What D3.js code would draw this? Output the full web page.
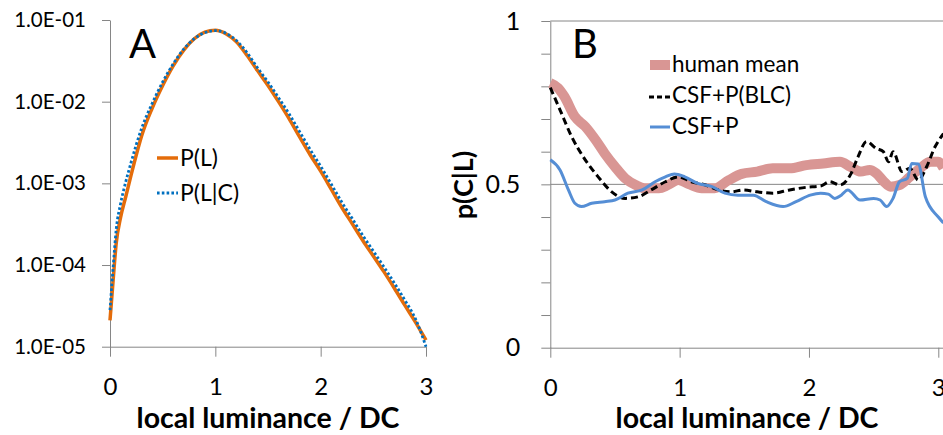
<!DOCTYPE html>
<html>
<head>
<meta charset="utf-8">
<script src="https://cdn.jsdelivr.net/npm/d3@7"></script>
<style>
  body { margin: 0; background: #fff; }
  text { font-family: Lato, "Open Sans", sans-serif; fill: #000; }
</style>
</head>
<body>
<svg id="chart" width="943" height="435"></svg>
<script>
// ---- panel A data: local luminance vs probability (log scale)
const lumA = [0, 0.03, 0.06, 0.1, 0.15, 0.2, 0.25, 0.3, 0.4, 0.5, 0.6, 0.7, 0.8, 0.9, 1.0,
  1.1, 1.2, 1.3, 1.4, 1.5, 1.6, 1.7, 1.8, 1.9, 2.0, 2.1, 2.2, 2.3, 2.4, 2.5, 2.6, 2.7, 2.8, 2.9, 3.0];
const pL = [2.1e-5, 6.6e-5, 1.9e-4, 3.8e-4, 6.9e-4, 1.26e-3, 2.24e-3, 3.8e-3, 8.3e-3, 1.58e-2,
  2.75e-2, 4.27e-2, 5.9e-2, 7.1e-2, 7.5e-2, 6.8e-2, 5.4e-2, 3.7e-2, 2.4e-2, 1.58e-2, 1.0e-2,
  6.2e-3, 3.7e-3, 2.24e-3, 1.41e-3, 8.5e-4, 5.1e-4, 3.2e-4, 2.0e-4, 1.29e-4, 8.3e-5, 5.2e-5,
  3.2e-5, 2.0e-5, 1.2e-5];
const pLC = [2.8e-5, 9.5e-5, 2.8e-4, 5.6e-4, 1.05e-3, 1.8e-3, 3.0e-3, 4.7e-3, 9.5e-3, 1.74e-2,
  2.9e-2, 4.4e-2, 5.9e-2, 7.0e-2, 7.4e-2, 6.9e-2, 5.6e-2, 4.0e-2, 2.6e-2, 1.74e-2, 1.12e-2,
  7.1e-3, 4.3e-3, 2.6e-3, 1.62e-3, 9.8e-4, 5.9e-4, 3.7e-4, 2.3e-4, 1.48e-4, 9.5e-5, 6.0e-5,
  3.7e-5, 2.2e-5, 1.0e-5];
const legendA = ["P(L)", "P(L|C)"];
const ticksYA = [1e-1, 1e-2, 1e-3, 1e-4, 1e-5];

// ---- panel B data: [luminance, p(C|L)]
const humanMean = [[0, 0.81], [0.06, 0.795], [0.11, 0.768], [0.19, 0.707], [0.27, 0.677],
  [0.35, 0.636], [0.42, 0.595], [0.5, 0.554], [0.58, 0.518], [0.66, 0.498], [0.73, 0.488],
  [0.84, 0.488], [0.91, 0.498], [0.99, 0.513], [1.07, 0.501], [1.17, 0.488], [1.27, 0.488],
  [1.38, 0.513], [1.48, 0.532], [1.6, 0.539], [1.72, 0.549], [1.85, 0.549], [1.98, 0.559],
  [2.11, 0.564], [2.24, 0.569], [2.32, 0.554], [2.4, 0.539], [2.47, 0.544], [2.52, 0.534],
  [2.58, 0.508], [2.63, 0.493], [2.7, 0.498], [2.78, 0.523], [2.86, 0.549], [2.94, 0.569],
  [3.0, 0.569], [3.04, 0.55]];
const csfBLC = [[0, 0.796], [0.075, 0.728], [0.165, 0.646], [0.27, 0.575], [0.37, 0.523],
  [0.475, 0.477], [0.58, 0.457], [0.68, 0.462], [0.78, 0.483], [0.89, 0.508], [0.99, 0.523],
  [1.09, 0.508], [1.2, 0.498], [1.3, 0.483], [1.4, 0.477], [1.49, 0.483], [1.6, 0.477],
  [1.72, 0.473], [1.85, 0.483], [1.98, 0.491], [2.09, 0.495], [2.16, 0.508], [2.24, 0.498],
  [2.32, 0.529], [2.38, 0.585], [2.445, 0.631], [2.52, 0.61], [2.575, 0.6], [2.615, 0.569],
  [2.65, 0.6], [2.72, 0.539], [2.78, 0.549], [2.845, 0.513], [2.91, 0.554], [2.975, 0.615],
  [3.0, 0.632], [3.04, 0.655]];
const csfP = [[0, 0.575], [0.075, 0.544], [0.14, 0.483], [0.19, 0.442], [0.24, 0.432],
  [0.32, 0.442], [0.42, 0.447], [0.5, 0.452], [0.6, 0.473], [0.71, 0.483], [0.81, 0.508],
  [0.89, 0.523], [0.96, 0.532], [1.04, 0.523], [1.14, 0.503], [1.25, 0.493], [1.35, 0.473],
  [1.45, 0.467], [1.57, 0.467], [1.67, 0.447], [1.8, 0.432], [1.9, 0.447], [2.01, 0.467],
  [2.09, 0.473], [2.15, 0.47], [2.2, 0.457], [2.25, 0.467], [2.3, 0.483], [2.395, 0.452],
  [2.5, 0.457], [2.55, 0.452], [2.6, 0.432], [2.65, 0.457], [2.7, 0.508], [2.76, 0.518],
  [2.795, 0.564], [2.845, 0.562], [2.9, 0.462], [3.0, 0.4], [3.04, 0.382]];
const legendB = ["human mean", "CSF+P(BLC)", "CSF+P"];
const ticksX = [0, 1, 2, 3];
const ticksYB = d3.range(0, 1.01, 0.1);
const labelsYB = [0, 0.5, 1];

const axisColor = "#868686";
const svg = d3.select("#chart");
svg.append("rect").attr("width", 943).attr("height", 435).attr("fill", "#fff");

function styleAxis(g) {
    g.select(".domain").attr("stroke", axisColor);
    g.selectAll(".tick line").attr("stroke", axisColor);
    g.selectAll(".tick text").attr("fill", "#000");
}

// ================= panel A
const xA = d3.scaleLinear().domain([0, 3]).range([110, 426]);
const yA = d3.scaleLog().domain([1e-5, 1e-1]).range([346.7, 20]);

const fmtE = d => {
    const e = Math.round(Math.log10(d));
    return "1.0E" + (e < 0 ? "-" : "+") + String(Math.abs(e)).padStart(2, "0");
};

svg.append("g")
    .attr("transform", "translate(110,0)")
    .call(d3.axisLeft(yA).tickValues(ticksYA).tickFormat(fmtE).tickSize(8).tickSizeOuter(0).tickPadding(16))
    .call(styleAxis)
    .call(g => g.selectAll(".tick text").attr("font-size", 20.5).attr("font-family", null));

svg.append("g")
    .attr("transform", "translate(0,346.7)")
    .call(d3.axisBottom(xA).tickValues(ticksX).tickFormat(d3.format("d")).tickSize(10).tickSizeOuter(0).tickPadding(21))
    .call(styleAxis)
    .call(g => g.selectAll(".tick text").attr("font-size", 24).attr("font-family", null));

const lineA = vals => d3.line()
    .x((d, i) => xA(lumA[i]))
    .y(d => yA(d))
    .curve(d3.curveMonotoneX)(vals);

svg.append("path").attr("d", lineA(pL))
    .attr("fill", "none").attr("stroke", "#E46C0A").attr("stroke-width", 3.5);
svg.append("path").attr("d", lineA(pLC))
    .attr("fill", "none").attr("stroke", "#0070C0").attr("stroke-width", 2.8)
    .attr("stroke-dasharray", "2.6,2.2");

svg.append("text").attr("x", 129).attr("y", 58).attr("font-size", 40).text("A");

// legend A
const legA = svg.append("g");
legA.append("line").attr("x1", 157).attr("x2", 178).attr("y1", 158).attr("y2", 158)
    .attr("stroke", "#E46C0A").attr("stroke-width", 3.5);
legA.append("line").attr("x1", 157).attr("x2", 178).attr("y1", 193).attr("y2", 193)
    .attr("stroke", "#0070C0").attr("stroke-width", 2.8).attr("stroke-dasharray", "2.6,2.2");
legA.selectAll("text").data(legendA).join("text")
    .attr("x", 180).attr("y", (d, i) => 166 + i * 35)
    .attr("font-size", 23).text(d => d);

svg.append("text").attr("x", 268).attr("y", 428).attr("text-anchor", "middle")
    .attr("font-size", 28.5).attr("font-weight", "bold").text("local luminance / DC");

// ================= panel B
const xB = d3.scaleLinear().domain([0, 3]).range([550.3, 938.3]);
const yB = d3.scaleLinear().domain([0, 1]).range([347.7, 21]);

svg.append("g").selectAll("line").data([0.5, 1]).join("line")
    .attr("x1", 550.3).attr("x2", 943)
    .attr("y1", d => yB(d)).attr("y2", d => yB(d))
    .attr("stroke", axisColor).attr("stroke-width", 1);

svg.append("g")
    .attr("transform", "translate(550.3,0)")
    .call(d3.axisLeft(yB).tickValues(ticksYB).tickSize(9).tickSizeOuter(0).tickPadding(21)
        .tickFormat(d => labelsYB.some(v => Math.abs(v - d) < 1e-6) ? d3.format("")(Math.round(d * 10) / 10) : ""))
    .call(styleAxis)
    .call(g => g.selectAll(".tick text").attr("font-size", 25).attr("font-family", null));

svg.append("g")
    .attr("transform", "translate(0,347.7)")
    .call(d3.axisBottom(xB).tickValues(ticksX).tickFormat(d3.format("d")).tickSize(10).tickSizeOuter(0).tickPadding(21))
    .call(styleAxis)
    .call(g => g.select(".domain").attr("d", "M550.3,0.5H943"))
    .call(g => g.selectAll(".tick text").attr("font-size", 24).attr("font-family", null));

const lineB = d3.line().x(d => xB(d[0])).y(d => yB(d[1])).curve(d3.curveMonotoneX);

svg.append("path").attr("d", lineB(humanMean))
    .attr("fill", "none").attr("stroke", "#D99694").attr("stroke-width", 10)
    .attr("stroke-linejoin", "round");
svg.append("path").attr("d", lineB(csfBLC))
    .attr("fill", "none").attr("stroke", "#000").attr("stroke-width", 3)
    .attr("stroke-dasharray", "7,4");
svg.append("path").attr("d", lineB(csfP))
    .attr("fill", "none").attr("stroke", "#558ED5").attr("stroke-width", 3)
    .attr("stroke-linejoin", "round");

svg.append("text").attr("x", 572).attr("y", 58).attr("font-size", 40).text("B");

// legend B
const legB = svg.append("g");
legB.append("line").attr("x1", 650).attr("x2", 670).attr("y1", 65).attr("y2", 65)
    .attr("stroke", "#D99694").attr("stroke-width", 10);
legB.append("line").attr("x1", 649).attr("x2", 671).attr("y1", 97).attr("y2", 97)
    .attr("stroke", "#000").attr("stroke-width", 3).attr("stroke-dasharray", "5,3");
legB.append("line").attr("x1", 650).attr("x2", 670).attr("y1", 127).attr("y2", 127)
    .attr("stroke", "#558ED5").attr("stroke-width", 3);
legB.selectAll("text").data(legendB).join("text")
    .attr("x", 672).attr("y", (d, i) => 72 + i * 30.8)
    .attr("font-size", 22.5).text(d => d);

svg.append("text").attr("transform", "translate(473,185) rotate(-90)")
    .attr("text-anchor", "middle").attr("font-size", 27).attr("font-weight", "bold")
    .text("p(C|L)");

svg.append("text").attr("x", 747).attr("y", 428).attr("text-anchor", "middle")
    .attr("font-size", 28.5).attr("font-weight", "bold").text("local luminance / DC");
</script>
</body>
</html>
